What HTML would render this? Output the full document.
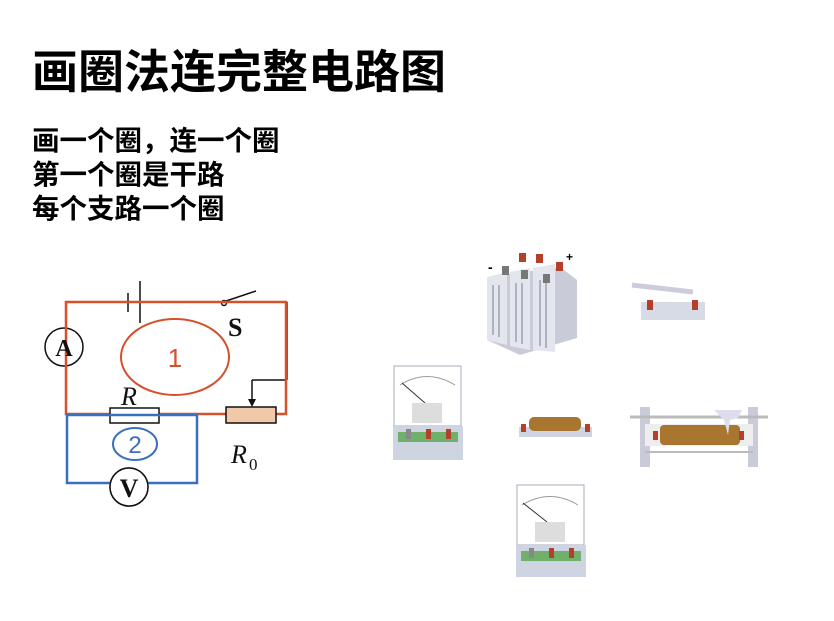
<!DOCTYPE html>
<html><head><meta charset="utf-8"><style>
body{margin:0;width:834px;height:621px;background:#fff;position:relative;overflow:hidden;font-family:"Liberation Sans","Noto Sans CJK SC",sans-serif}
.t{position:absolute;left:32px;top:44px;font-size:46px;font-weight:bold;white-space:nowrap;line-height:56px}
.b{position:absolute;left:32px;top:124px;font-size:27.5px;font-weight:bold;line-height:34px;white-space:nowrap}
svg{position:absolute;left:0;top:0}
</style></head><body>
<div class="t">画圈法连完整电路图</div>
<div class="b">画一个圈，连一个圈<br>第一个圈是干路<br>每个支路一个圈</div>
<svg width="834" height="621" viewBox="0 0 834 621">
<!-- circuit -->
<g stroke="#111" stroke-width="1.5" fill="none">
<line x1="128" y1="293" x2="128" y2="312"/>
<line x1="140" y1="281" x2="140" y2="323"/>
<line x1="287" y1="302" x2="287" y2="380"/>
<line x1="287" y1="380" x2="252" y2="380"/>
<line x1="252" y1="380" x2="252" y2="404"/>
<line x1="226" y1="301" x2="256" y2="291"/>
<circle cx="224" cy="303" r="2.5" fill="#fff"/>
<circle cx="64" cy="347" r="19" fill="#fff"/>
<circle cx="129" cy="487" r="19" fill="#fff"/>
<line x1="197" y1="415" x2="197" y2="483"/>
</g>
<polygon points="248,399 256,399 252,407" fill="#111"/>
<rect x="66" y="302" width="220" height="112" fill="none" stroke="#d4512a" stroke-width="2.5"/>
<ellipse cx="175" cy="357" rx="54" ry="38" fill="none" stroke="#d4512a" stroke-width="2"/>
<text x="175" y="367" font-size="26" fill="#d4512a" text-anchor="middle" font-family="Liberation Sans,sans-serif">1</text>
<rect x="110" y="408" width="49" height="15" fill="#fff" stroke="#111" stroke-width="1.5"/>
<rect x="226" y="407" width="50" height="16" fill="#f2c9a8" stroke="#111" stroke-width="1.5"/>
<rect x="67" y="415" width="130" height="68" fill="none" stroke="#3a6fbf" stroke-width="2.5"/>
<ellipse cx="135" cy="444" rx="22" ry="16" fill="none" stroke="#3a6fbf" stroke-width="2"/>
<text x="135" y="453" font-size="24" fill="#3a6fbf" text-anchor="middle">2</text>
<circle cx="129" cy="487" r="19" fill="#fff" stroke="#111" stroke-width="1.5"/>
<g font-family="Liberation Serif,serif" font-weight="bold" fill="#111">
<text x="64" y="356" font-size="24" text-anchor="middle">A</text>
<text x="129" y="497" font-size="26" text-anchor="middle">V</text>
<text x="228" y="336" font-size="26">S</text>
</g>
<g font-family="Liberation Serif,serif" font-style="italic" fill="#111" font-size="26">
<text x="121" y="405">R</text>
<text x="231" y="463">R</text>
<text x="249" y="470" font-size="17" font-style="normal">0</text>
</g>
<!-- battery -->
<g>
<polygon points="487,277 560,267 577,280 577,338 520,355 487,340" fill="#c9ccd8"/>
<polygon points="487,277 507,272 507,345 487,340" fill="#e4e6ee"/>
<polygon points="510,272 530,268 530,350 510,346" fill="#e4e6ee"/>
<polygon points="533,268 555,264 555,352 533,350" fill="#e4e6ee"/>
<g stroke="#9aa0b4" stroke-width="1.5"><line x1="493" y1="285" x2="493" y2="335"/><line x1="499" y1="285" x2="499" y2="337"/><line x1="516" y1="283" x2="516" y2="342"/><line x1="522" y1="283" x2="522" y2="344"/><line x1="540" y1="280" x2="540" y2="346"/><line x1="546" y1="280" x2="546" y2="348"/></g>
<rect x="519" y="253" width="7" height="9" fill="#b5402a"/><rect x="536" y="254" width="7" height="9" fill="#b5402a"/><rect x="556" y="262" width="7" height="9" fill="#b5402a"/>
<rect x="502" y="266" width="7" height="9" fill="#777"/><rect x="521" y="270" width="7" height="9" fill="#777"/><rect x="543" y="274" width="7" height="9" fill="#777"/>
<text x="488" y="272" font-size="14" font-weight="bold">-</text><text x="566" y="261" font-size="12" font-weight="bold">+</text>
</g>
<!-- switch -->
<rect x="641" y="302" width="64" height="18" fill="#d7dbe6"/>
<line x1="632" y1="285" x2="693" y2="292" stroke="#ccd" stroke-width="5"/>
<rect x="647" y="300" width="6" height="10" fill="#b5402a"/><rect x="692" y="300" width="6" height="10" fill="#b5402a"/>
<!-- ammeter -->
<rect x="394" y="366" width="67" height="60" fill="#fff" stroke="#aab" stroke-width="1"/>
<path d="M400 385 Q427 368 455 385" fill="none" stroke="#999"/>
<line x1="402" y1="383" x2="425" y2="403" stroke="#333"/>
<rect x="412" y="403" width="30" height="20" fill="#ddd"/>
<rect x="393" y="426" width="70" height="34" fill="#cfd4e2"/>
<rect x="398" y="432" width="60" height="10" fill="#6fb06a"/>
<rect x="406" y="429" width="5" height="10" fill="#888"/><rect x="426" y="429" width="5" height="10" fill="#b5402a"/><rect x="446" y="429" width="5" height="10" fill="#b5402a"/>
<!-- resistor -->
<rect x="519" y="427" width="73" height="10" fill="#cfd4e2"/>
<rect x="529" y="417" width="52" height="14" rx="5" fill="#a8762e"/>
<rect x="521" y="424" width="5" height="8" fill="#b5402a"/><rect x="585" y="424" width="5" height="8" fill="#b5402a"/>
<!-- rheostat -->
<rect x="640" y="407" width="10" height="60" fill="#c9ccd8"/><rect x="748" y="407" width="10" height="60" fill="#c9ccd8"/>
<line x1="630" y1="417" x2="768" y2="417" stroke="#bbb" stroke-width="3"/>
<rect x="645" y="424" width="108" height="22" fill="#eee"/>
<rect x="660" y="425" width="80" height="20" rx="4" fill="#a8762e"/>
<polygon points="714,410 742,410 738,418 730,420 728,435 724,420" fill="#dde"/>
<line x1="645" y1="452" x2="753" y2="452" stroke="#bbb" stroke-width="2"/>
<rect x="653" y="431" width="5" height="9" fill="#b5402a"/><rect x="739" y="431" width="5" height="9" fill="#b5402a"/>
<!-- voltmeter -->
<rect x="517" y="485" width="67" height="60" fill="#fff" stroke="#aab" stroke-width="1"/>
<path d="M522 505 Q550 488 578 505" fill="none" stroke="#999"/>
<line x1="523" y1="503" x2="547" y2="522" stroke="#333"/>
<rect x="535" y="522" width="30" height="20" fill="#ddd"/>
<rect x="516" y="545" width="70" height="32" fill="#cfd4e2"/>
<rect x="521" y="551" width="60" height="10" fill="#6fb06a"/>
<rect x="529" y="548" width="5" height="10" fill="#888"/><rect x="549" y="548" width="5" height="10" fill="#b5402a"/><rect x="569" y="548" width="5" height="10" fill="#b5402a"/>
</svg>
</body></html>
